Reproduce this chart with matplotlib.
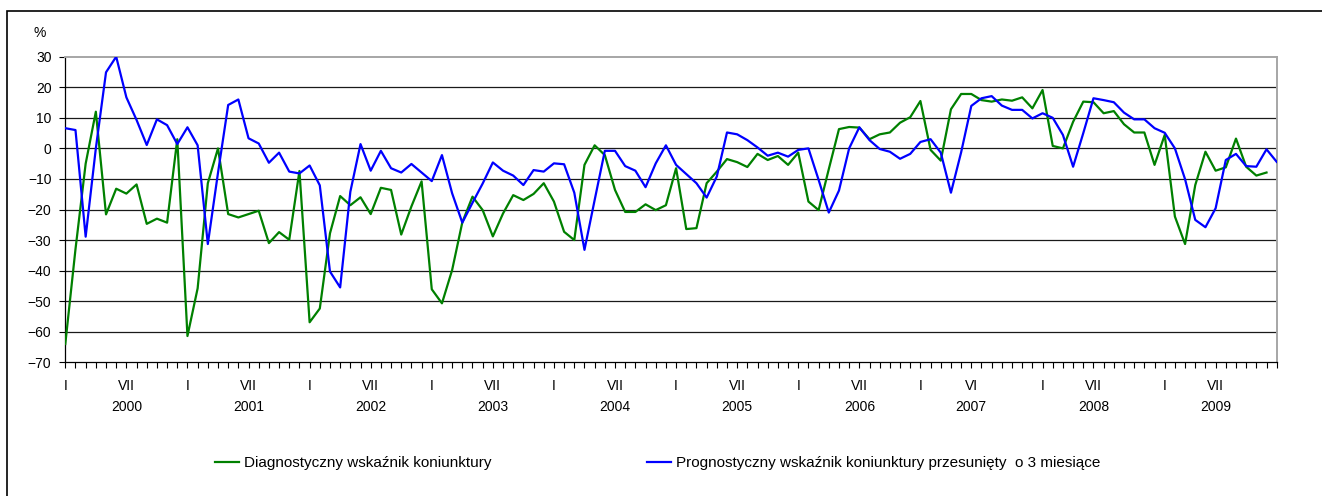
import numpy as np
import matplotlib.pyplot as plt
from matplotlib.patches import Rectangle
from matplotlib.lines import Line2D

plt.rcParams['font.family'] = ['Liberation Sans', 'DejaVu Sans']

# monthly index values, Jan 2000 onwards
diagnostic = [
    -64, -33, -5, 12, -21.6, -13.2, -14.8, -11.8, -24.7, -23, -24.3, 3,
    -61.4, -45.8, -11.4, 0, -21.5, -22.6, -21.5, -20.4, -31, -27.4, -29.9, -7.4,
    -56.9, -52.4, -27.8, -15.6, -18.6, -16, -21.5, -12.9, -13.6, -28.2, -19, -10.8,
    -46.1, -50.7, -39.8, -24.2, -15.8, -20.2, -28.8, -21.3, -15.3, -16.9, -14.9, -11.4,
    -17.4, -27.3, -30, -5.4, 1, -2.2, -13.6, -20.8, -20.8, -18.3, -20.2, -18.6,
    -6.5, -26.4, -26.1, -11.4, -7.6, -3.5, -4.5, -6.1, -1.8, -3.8, -2.5, -5.4,
    -1.4, -17.4, -20.2, -6.8, 6.3, 7, 6.8, 3, 4.6, 5.2, 8.4, 10.2,
    15.5, -0.5, -4, 12.8, 17.8, 17.8, 15.8, 15.3, 16, 15.6, 16.7, 13.1,
    19.1, 0.8, 0, 8.7, 15.3, 15.1, 11.5, 12.2, 7.9, 5.2, 5.2, -5.4,
    4.4, -22.3, -31.3, -12, -1.1, -7.3, -6.2, 3.2, -6, -8.9, -7.9,
]
prognostic_shifted = [
    6.6, 6, -28.9, 0, 24.9, 30, 16.7, 9.3, 1.1, 9.5, 7.6, 1.4,
    6.9, 1, -31.3, -8, 14.2, 16, 3.3, 1.6, -4.7, -1.4, -7.6, -8.2,
    -5.6, -12.1, -40.3, -45.5, -14.2, 1.4, -7.3, -0.8, -6.5, -7.9, -5.1, -7.9,
    -10.7, -2.2, -14.7, -24.3, -17.8, -11.5, -4.6, -7.3, -8.9, -12, -7.1, -7.6,
    -4.9, -5.2, -14.5, -33.2, -16.9, -0.8, -0.8, -5.8, -7.3, -12.7, -4.9, 1,
    -5.4, -8.4, -11.4, -16.1, -9.2, 5.2, 4.6, 2.7, 0.3, -2.4, -1.4, -2.7,
    -0.5, 0, -10.3, -21, -13.8, 0, 6.9, 2.7, -0.2, -1.1, -3.4, -1.8,
    2.1, 3, -1.4, -14.5, -1.3, 13.9, 16.4, 17.1, 14, 12.6, 12.6, 9.8,
    11.5, 10, 4.4, -6, 5, 16.4, 15.8, 15.1, 11.7, 9.5, 9.5, 6.6,
    5.1, 0, -10.1, -23.4, -25.8, -19.6, -3.8, -1.8, -5.8, -6, -0.3, -4.4,
]

month_label_pos = [0, 6, 12, 18, 24, 30, 36, 42, 48, 54, 60, 66, 72, 78, 84, 89, 96, 101, 108, 113]
month_labels = ["I", "VII", "I", "VII", "I", "VII", "I", "VII", "I", "VII",
                "I", "VII", "I", "VII", "I", "VI", "I", "VII", "I", "VII"]
year_label_pos = [6, 18, 30, 42, 54, 66, 78, 89, 101, 113]
year_labels = ["2000", "2001", "2002", "2003", "2004", "2005", "2006", "2007", "2008", "2009"]

label_diag = "Diagnostyczny wskaźnik koniunktury"
label_prog = "Prognostyczny wskaźnik koniunktury przesunięty  o 3 miesiące"

W, H = 1322, 496
fig = plt.figure(figsize=(W / 100, H / 100), dpi=100)
ax = fig.add_axes([65.3 / W, 1 - 362.3 / H, 1211.4 / W, 305.6 / H])

# outer frame of the chart object
fig.add_artist(Rectangle((7 / W, -0.05), 1.1, 1 - 11 / H + 0.05, transform=fig.transFigure,
                         fill=False, edgecolor="black", linewidth=1.2))

x_diag = np.arange(len(diagnostic))
x_prog = np.arange(len(prognostic_shifted))

for v in range(-60, 30, 10):
    ax.axhline(v, color="#1a1a1a", linewidth=0.9, zorder=1)

ax.plot(x_diag, diagnostic, color="#008000", linewidth=1.6, zorder=3)
ax.plot(x_prog, prognostic_shifted, color="#0000ff", linewidth=1.6, zorder=4)

ax.set_xlim(0, len(prognostic_shifted) - 1)
ax.set_ylim(-70, 30)
ax.set_yticks(range(-70, 31, 10))
ax.set_xticks(x_prog)
ax.set_xticklabels([])
ax.tick_params(axis="x", length=4, width=0.8, direction="out", color="black")
ax.tick_params(axis="y", length=4, width=0.8, direction="out", color="black", labelsize=10, pad=6)

for side in ("top", "right"):
    ax.spines[side].set_color("#a6a6a6")
    ax.spines[side].set_linewidth(1.4)
for side in ("left", "bottom"):
    ax.spines[side].set_color("black")
    ax.spines[side].set_linewidth(0.9)

trans = ax.get_xaxis_transform()
for p, lab in zip(month_label_pos, month_labels):
    ax.text(p, -0.077, lab, transform=trans, ha="center", va="center", fontsize=10)
for p, lab in zip(year_label_pos, year_labels):
    ax.text(p, -0.146, lab, transform=trans, ha="center", va="center", fontsize=10)

fig.text(40 / W, 1 - 33 / H, "%", ha="center", va="center", fontsize=10)

h1 = Line2D([], [], color="#008000", linewidth=1.6)
h2 = Line2D([], [], color="#0000ff", linewidth=1.6)
for h, lab, x0 in ((h1, label_diag, 215), (h2, label_prog, 647)):
    fig.legend([h], [lab], loc="center left", bbox_to_anchor=(x0 / W, 1 - 463 / H),
               frameon=False, fontsize=11, handlelength=1.6, handletextpad=0.3,
               borderpad=0, borderaxespad=0)

fig.savefig("out.png", dpi=100)
